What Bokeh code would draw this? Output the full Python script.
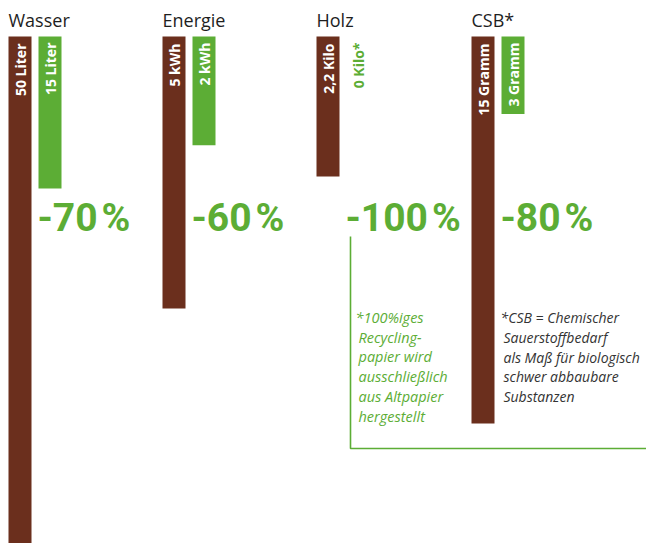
from bokeh.plotting import figure
from bokeh.models import Range1d, ColumnDataSource
from bokeh.core.properties import value
from bokeh.embed import file_html
from bokeh.resources import INLINE
import math

# ---- data ----
categories = ["Wasser", "Energie", "Holz", "CSB*"]
original = [50, 5, 2.2, 15]
recycling = [15, 2, 0, 3]
original_labels = ["50 Liter", "5 kWh", "2,2 Kilo", "15 Gramm"]
recycling_labels = ["15 Liter", "2 kWh", "0 Kilo*", "3 Gramm"]
note_holz = ["*100%iges", "Recycling-", "papier wird", "ausschließlich", "aus Altpapier", "hergestellt"]
note_csb = ["*CSB = Chemischer", "Sauerstoffbedarf", "als Maß für biologisch", "schwer abbaubare", "Substanzen"]

# ---- layout (pixel-like data space, y grows downward) ----
W, H = 646, 543
group_left = [8, 162, 316, 471]
px_per_unit = [10.14, 54.4, 63.6, 25.8]
bar_w = 23
pair_off = 30
bar_top = 36

BROWN = "#6b2f1d"
GREEN = "#5cad35"
DARK = "#1e1e1e"

p = figure(width=W, height=H, x_range=Range1d(0, W), y_range=Range1d(H, 0),
           toolbar_location=None, output_backend="svg", min_border=0)
p.axis.visible = False
p.grid.visible = False
p.outline_line_color = None
p.background_fill_color = "white"
p.border_fill_color = "white"

o_left = list(group_left)
r_left = [g + pair_off for g in group_left]
src_o = ColumnDataSource(dict(
    left=o_left, right=[l + bar_w for l in o_left],
    top=[bar_top] * 4,
    bottom=[bar_top + v * s for v, s in zip(original, px_per_unit)]))
src_r = ColumnDataSource(dict(
    left=r_left, right=[l + bar_w for l in r_left],
    top=[bar_top] * 4,
    bottom=[bar_top + v * s for v, s in zip(recycling, px_per_unit)]))
p.quad(left="left", right="right", top="top", bottom="bottom", source=src_o,
       fill_color=BROWN, line_color=None)
p.quad(left="left", right="right", top="top", bottom="bottom", source=src_r,
       fill_color=GREEN, line_color=None)

# titles
p.text(x=group_left, y=[19] * 4, text=categories, text_font=value("Open Sans"),
       text_font_size="18px", text_color=DARK, text_baseline="alphabetic", text_align="left")

# bar labels (rotated)
p.text(x=[l + bar_w / 2 for l in o_left], y=[bar_top + 7] * 4, text=original_labels,
       angle=math.pi / 2, text_font=value("Open Sans"), text_font_style="bold",
       text_font_size="14px", text_color="white", text_align="right", text_baseline="middle")
r_colors = ["white" if v > 0 else GREEN for v in recycling]
p.text(x=[l + bar_w / 2 for l in r_left], y=[bar_top + 6] * 4, text=recycling_labels,
       angle=math.pi / 2, text_font=value("Open Sans"), text_font_style="bold",
       text_font_size="14px", text_color=r_colors, text_align="right", text_baseline="middle")

# reductions
reduction = ["-%d\u200a%%" % round((o - r) / o * 100) for o, r in zip(original, recycling)]
p.text(x=[l - 1 for l in r_left], y=[217] * 4, text=reduction, text_font=value("Roboto"),
       text_font_style="bold", text_font_size="39px", text_color=GREEN,
       text_align="left", text_baseline="alphabetic")

# green bracket line
p.line(x=[350, 350, W], y=[236, 448, 448], line_color=GREEN, line_width=1.6)

# footnotes
p.text(x=[355] + [358] * (len(note_holz) - 1), y=[317 + 19.7 * i for i in range(len(note_holz))],
       text=note_holz, text_font=value("Open Sans"), text_font_style="italic",
       text_font_size="14.5px", text_color=GREEN, text_align="left", text_baseline="middle")
p.text(x=[500] + [503] * (len(note_csb) - 1), y=[317 + 19.8 * i for i in range(len(note_csb))],
       text=note_csb, text_font=value("Open Sans"), text_font_style="italic",
       text_font_size="14px", text_color="#333333", text_align="left", text_baseline="middle")

open("out.html", "w").write(file_html(p, INLINE))
